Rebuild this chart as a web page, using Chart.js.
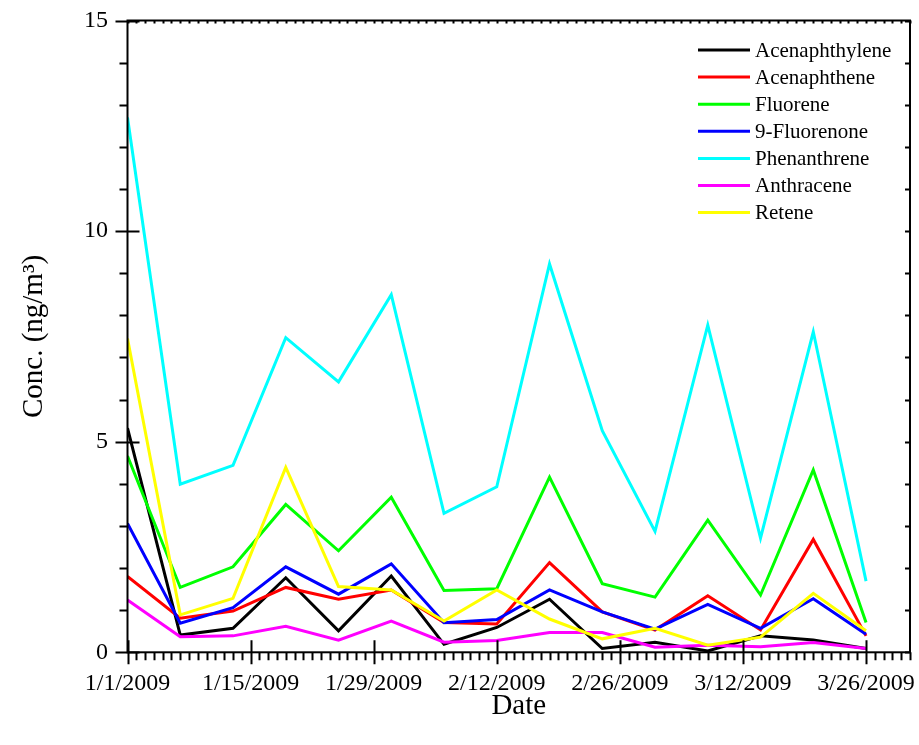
<!DOCTYPE html>
<html>
<head>
<meta charset="utf-8">
<script src="https://cdn.jsdelivr.net/npm/chart.js@4"></script>
<style>
  body { margin: 0; background: #fff; }
  #wrap { width: 919px; height: 745px; }
</style>
</head>
<body>
<div id="wrap"><canvas id="pah-chart" width="919" height="745"></canvas></div>
<script>
// sampling dates (every 6 days)
const sampleDates = ['1/1/2009', '1/7/2009', '1/13/2009', '1/19/2009', '1/25/2009', '1/31/2009', '2/6/2009',
    '2/12/2009', '2/18/2009', '2/24/2009', '3/2/2009', '3/8/2009', '3/14/2009', '3/20/2009', '3/26/2009'];

const acenaphthylene = [5.32, 0.41, 0.57, 1.77, 0.51, 1.81, 0.19, 0.59, 1.26, 0.09, 0.24, 0.03, 0.39, 0.29, 0.09];
const acenaphthene   = [1.80, 0.81, 0.98, 1.54, 1.26, 1.48, 0.71, 0.67, 2.13, 0.96, 0.53, 1.34, 0.53, 2.68, 0.39];
const fluorene       = [4.66, 1.54, 2.03, 3.51, 2.41, 3.68, 1.47, 1.51, 4.16, 1.63, 1.31, 3.14, 1.36, 4.33, 0.71];
const fluorenone     = [3.06, 0.69, 1.06, 2.03, 1.38, 2.10, 0.70, 0.78, 1.48, 0.96, 0.55, 1.14, 0.57, 1.27, 0.43];
const phenanthrene   = [12.70, 3.99, 4.44, 7.47, 6.42, 8.49, 3.30, 3.93, 9.22, 5.26, 2.87, 7.77, 2.71, 7.61, 1.69];
const anthracene     = [1.24, 0.37, 0.39, 0.62, 0.29, 0.74, 0.24, 0.28, 0.47, 0.47, 0.12, 0.17, 0.13, 0.23, 0.09];
const retene         = [7.45, 0.89, 1.28, 4.39, 1.56, 1.48, 0.74, 1.48, 0.79, 0.32, 0.57, 0.17, 0.36, 1.40, 0.51];

const seriesNames = ['Acenaphthylene', 'Acenaphthene', 'Fluorene', '9-Fluorenone', 'Phenanthrene', 'Anthracene', 'Retene'];
const seriesValues = [acenaphthylene, acenaphthene, fluorene, fluorenone, phenanthrene, anthracene, retene];
const seriesColors = ['#000000', '#ff0000', '#00ff00', '#0000ff', '#00ffff', '#ff00ff', '#ffff00'];

const xTickLabels = ['1/1/2009', '1/15/2009', '1/29/2009', '2/12/2009', '2/26/2009', '3/12/2009', '3/26/2009'];
const lastDate = '3/31/2009';
const yTickValues = [0, 5, 10, 15];

// day number counted from 1/1/2009
function dayNumber(s) {
    const [m, d, y] = s.split('/').map(Number);
    return (Date.UTC(y, m - 1, d) - Date.UTC(2009, 0, 1)) / 86400000;
}

const majorDays = xTickLabels.map(dayNumber);
const FONT = "'Liberation Serif', 'Times New Roman', serif";

// no extra room for overhanging tick labels
function noLabelPadding(axis) {
    axis.paddingTop = 0;
    axis.paddingBottom = 0;
    axis.paddingLeft = 0;
    axis.paddingRight = 0;
}

// frame, major and minor ticks like the original plot
const axesFrame = {
    id: 'axesFrame',
    afterDatasetsDraw(chart) {
        const { ctx, chartArea: a, scales: { x, y } } = chart;
        ctx.save();
        ctx.strokeStyle = '#000';
        ctx.lineWidth = 2;
        ctx.strokeRect(a.left, a.top, a.right - a.left, a.bottom - a.top);

        ctx.beginPath();
        for (let d = 0; d <= x.max; d++) {
            const px = Math.round(x.getPixelForValue(d)) + 0.5;
            if (majorDays.includes(d)) {
                ctx.moveTo(px, a.bottom - 12); ctx.lineTo(px, a.bottom + 12);
            } else {
                ctx.moveTo(px, a.bottom); ctx.lineTo(px, a.bottom + 8);
            }
            ctx.moveTo(px, a.top); ctx.lineTo(px, a.top + 3);
        }
        for (let v = 0; v <= y.max; v++) {
            const py = Math.round(y.getPixelForValue(v)) + 0.5;
            if (yTickValues.includes(v)) {
                ctx.moveTo(a.left - 12, py); ctx.lineTo(a.left + 12, py);
            } else {
                ctx.moveTo(a.left - 8, py); ctx.lineTo(a.left, py);
            }
            ctx.moveTo(a.right - 5, py); ctx.lineTo(a.right, py);
        }
        ctx.stroke();
        ctx.restore();
    }
};

// legend box inside the plot, top right
const insideLegend = {
    id: 'insideLegend',
    afterDatasetsDraw(chart) {
        const { ctx } = chart;
        ctx.save();
        ctx.font = '21px ' + FONT;
        ctx.textBaseline = 'middle';
        ctx.textAlign = 'left';
        chart.data.datasets.forEach((ds, i) => {
            const yy = 50 + i * 27.1;
            ctx.strokeStyle = ds.borderColor;
            ctx.lineWidth = 3;
            ctx.beginPath();
            ctx.moveTo(698, yy);
            ctx.lineTo(750, yy);
            ctx.stroke();
            ctx.fillStyle = '#000';
            ctx.fillText(ds.label, 755, yy + 1);
        });
        ctx.restore();
    }
};

const datasets = seriesNames.map((name, i) => ({
    label: name,
    data: sampleDates.map((d, j) => ({ x: dayNumber(d), y: seriesValues[i][j] })),
    borderColor: seriesColors[i],
    backgroundColor: seriesColors[i],
    borderWidth: 3,
    pointRadius: 0,
    tension: 0,
    order: seriesNames.length - i
}));

new Chart(document.getElementById('pah-chart'), {
    type: 'line',
    data: { datasets },
    plugins: [axesFrame, insideLegend],
    options: {
        responsive: false,
        animation: false,
        layout: { padding: { top: 20.5, right: 9, left: 0, bottom: 0 } },
        plugins: {
            legend: { display: false },
            tooltip: { enabled: false }
        },
        scales: {
            x: {
                type: 'linear',
                min: 0,
                max: dayNumber(lastDate),
                afterBuildTicks: (axis) => { axis.ticks = majorDays.map(v => ({ value: v })); },
                afterFit: (axis) => { axis.height = 92.7; noLabelPadding(axis); },
                grid: { display: false, drawTicks: false },
                border: { display: false },
                ticks: {
                    padding: 17,
                    maxRotation: 0,
                    autoSkip: false,
                    color: '#000',
                    font: { family: FONT, size: 24 },
                    callback: (v) => xTickLabels[majorDays.indexOf(v)]
                },
                title: {
                    display: true,
                    text: 'Date',
                    color: '#000',
                    font: { family: FONT, size: 29 },
                    padding: { top: 0, bottom: 21.6 }
                }
            },
            y: {
                min: 0,
                max: 15,
                afterBuildTicks: (axis) => { axis.ticks = yTickValues.map(v => ({ value: v })); },
                afterFit: (axis) => { axis.width = 127.5; noLabelPadding(axis); },
                grid: { display: false, drawTicks: false },
                border: { display: false },
                ticks: {
                    padding: 19.5,
                    color: '#000',
                    font: { family: FONT, size: 24 }
                },
                title: {
                    display: true,
                    text: 'Conc. (ng/m³)',
                    color: '#000',
                    font: { family: FONT, size: 29 },
                    padding: { top: 16.6, bottom: 0 }
                }
            }
        }
    }
});
</script>
</body>
</html>
